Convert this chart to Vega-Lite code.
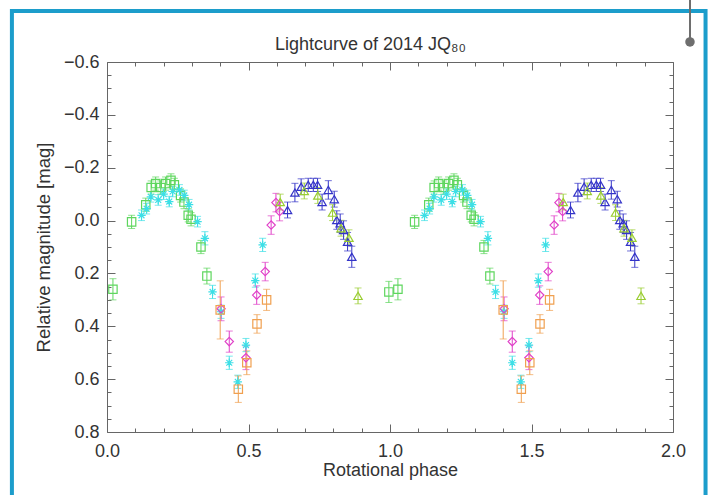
{
  "$schema": "https://vega.github.io/schema/vega-lite/v6.json",
  "width": 566,
  "height": 370,
  "autosize": {"type": "none"},
  "padding": {"left": 107, "top": 62, "right": 41, "bottom": 63},
  "background": "white",
  "config": {"view": {"stroke": null}, "font": "Liberation Sans"},
  "datasets": {
    "obs": [
      {"s": "A", "p": 0.021, "m": 0.26, "e": 0.04},
      {"s": "A", "p": 0.087, "m": 0.005, "e": 0.025},
      {"s": "A", "p": 0.137, "m": -0.06, "e": 0.025},
      {"s": "A", "p": 0.156, "m": -0.125, "e": 0.025},
      {"s": "A", "p": 0.172, "m": -0.14, "e": 0.025},
      {"s": "A", "p": 0.19, "m": -0.125, "e": 0.025},
      {"s": "A", "p": 0.207, "m": -0.14, "e": 0.025},
      {"s": "A", "p": 0.226, "m": -0.152, "e": 0.025},
      {"s": "A", "p": 0.238, "m": -0.135, "e": 0.025},
      {"s": "A", "p": 0.26, "m": -0.095, "e": 0.025},
      {"s": "A", "p": 0.272, "m": -0.07, "e": 0.025},
      {"s": "A", "p": 0.287, "m": -0.02, "e": 0.025},
      {"s": "A", "p": 0.297, "m": -0.005, "e": 0.025},
      {"s": "A", "p": 0.332, "m": 0.1, "e": 0.025},
      {"s": "A", "p": 0.353, "m": 0.21, "e": 0.03},
      {"s": "B", "p": 0.122, "m": -0.02, "e": 0.02},
      {"s": "B", "p": 0.14, "m": -0.045, "e": 0.02},
      {"s": "B", "p": 0.155, "m": -0.09, "e": 0.02},
      {"s": "B", "p": 0.181, "m": -0.078, "e": 0.02},
      {"s": "B", "p": 0.2, "m": -0.1, "e": 0.02},
      {"s": "B", "p": 0.22, "m": -0.072, "e": 0.02},
      {"s": "B", "p": 0.232, "m": -0.11, "e": 0.02},
      {"s": "B", "p": 0.256, "m": -0.116, "e": 0.02},
      {"s": "B", "p": 0.273, "m": -0.095, "e": 0.02},
      {"s": "B", "p": 0.29, "m": -0.06, "e": 0.02},
      {"s": "B", "p": 0.32, "m": 0.004, "e": 0.02},
      {"s": "B", "p": 0.346, "m": 0.067, "e": 0.025},
      {"s": "B", "p": 0.373, "m": 0.27, "e": 0.025},
      {"s": "B", "p": 0.403, "m": 0.345, "e": 0.025},
      {"s": "B", "p": 0.432, "m": 0.538, "e": 0.025},
      {"s": "B", "p": 0.462, "m": 0.61, "e": 0.025},
      {"s": "B", "p": 0.491, "m": 0.471, "e": 0.025},
      {"s": "B", "p": 0.524, "m": 0.227, "e": 0.025},
      {"s": "B", "p": 0.55, "m": 0.092, "e": 0.025},
      {"s": "C", "p": 0.403, "m": 0.334, "e": 0.045},
      {"s": "C", "p": 0.432, "m": 0.458, "e": 0.04},
      {"s": "C", "p": 0.491, "m": 0.519, "e": 0.045},
      {"s": "C", "p": 0.529, "m": 0.282, "e": 0.035},
      {"s": "C", "p": 0.559, "m": 0.193, "e": 0.035},
      {"s": "C", "p": 0.58, "m": 0.017, "e": 0.035},
      {"s": "C", "p": 0.597, "m": -0.068, "e": 0.035},
      {"s": "C", "p": 0.61, "m": -0.034, "e": 0.035},
      {"s": "D", "p": 0.4, "m": 0.338, "e": 0.11},
      {"s": "D", "p": 0.464, "m": 0.638, "e": 0.05},
      {"s": "D", "p": 0.494, "m": 0.538, "e": 0.045},
      {"s": "D", "p": 0.53, "m": 0.391, "e": 0.035},
      {"s": "D", "p": 0.564, "m": 0.3, "e": 0.04},
      {"s": "E", "p": 0.638, "m": -0.04, "e": 0.03},
      {"s": "E", "p": 0.664, "m": -0.106, "e": 0.035},
      {"s": "E", "p": 0.686, "m": -0.128, "e": 0.03},
      {"s": "E", "p": 0.711, "m": -0.135, "e": 0.025},
      {"s": "E", "p": 0.729, "m": -0.135, "e": 0.025},
      {"s": "E", "p": 0.744, "m": -0.135, "e": 0.025},
      {"s": "E", "p": 0.76, "m": -0.07, "e": 0.03},
      {"s": "E", "p": 0.782, "m": -0.116, "e": 0.035},
      {"s": "E", "p": 0.803, "m": -0.081, "e": 0.03},
      {"s": "E", "p": 0.812, "m": -0.002, "e": 0.035},
      {"s": "E", "p": 0.824, "m": 0.01, "e": 0.035},
      {"s": "E", "p": 0.836, "m": 0.036, "e": 0.035},
      {"s": "E", "p": 0.85, "m": 0.08, "e": 0.035},
      {"s": "E", "p": 0.865, "m": 0.137, "e": 0.04},
      {"s": "F", "p": 0.612, "m": -0.07, "e": 0.03},
      {"s": "F", "p": 0.697, "m": -0.112, "e": 0.03},
      {"s": "F", "p": 0.745, "m": -0.095, "e": 0.03},
      {"s": "F", "p": 0.797, "m": -0.03, "e": 0.03},
      {"s": "F", "p": 0.827, "m": 0.029, "e": 0.03},
      {"s": "F", "p": 0.855, "m": 0.065, "e": 0.03},
      {"s": "F", "p": 0.887, "m": 0.285, "e": 0.03},
      {"s": "A", "p": 0.996, "m": 0.27, "e": 0.04},
      {"s": "A", "p": 1.028, "m": 0.26, "e": 0.04},
      {"s": "A", "p": 1.087, "m": 0.005, "e": 0.025},
      {"s": "A", "p": 1.137, "m": -0.06, "e": 0.025},
      {"s": "A", "p": 1.156, "m": -0.125, "e": 0.025},
      {"s": "A", "p": 1.172, "m": -0.14, "e": 0.025},
      {"s": "A", "p": 1.19, "m": -0.125, "e": 0.025},
      {"s": "A", "p": 1.207, "m": -0.14, "e": 0.025},
      {"s": "A", "p": 1.226, "m": -0.152, "e": 0.025},
      {"s": "A", "p": 1.238, "m": -0.135, "e": 0.025},
      {"s": "A", "p": 1.26, "m": -0.095, "e": 0.025},
      {"s": "A", "p": 1.272, "m": -0.07, "e": 0.025},
      {"s": "A", "p": 1.287, "m": -0.02, "e": 0.025},
      {"s": "A", "p": 1.297, "m": -0.005, "e": 0.025},
      {"s": "A", "p": 1.332, "m": 0.1, "e": 0.025},
      {"s": "A", "p": 1.353, "m": 0.21, "e": 0.03},
      {"s": "B", "p": 1.122, "m": -0.02, "e": 0.02},
      {"s": "B", "p": 1.14, "m": -0.045, "e": 0.02},
      {"s": "B", "p": 1.155, "m": -0.09, "e": 0.02},
      {"s": "B", "p": 1.181, "m": -0.078, "e": 0.02},
      {"s": "B", "p": 1.2, "m": -0.1, "e": 0.02},
      {"s": "B", "p": 1.22, "m": -0.072, "e": 0.02},
      {"s": "B", "p": 1.232, "m": -0.11, "e": 0.02},
      {"s": "B", "p": 1.256, "m": -0.116, "e": 0.02},
      {"s": "B", "p": 1.273, "m": -0.095, "e": 0.02},
      {"s": "B", "p": 1.29, "m": -0.06, "e": 0.02},
      {"s": "B", "p": 1.32, "m": 0.004, "e": 0.02},
      {"s": "B", "p": 1.346, "m": 0.067, "e": 0.025},
      {"s": "B", "p": 1.373, "m": 0.27, "e": 0.025},
      {"s": "B", "p": 1.403, "m": 0.345, "e": 0.025},
      {"s": "B", "p": 1.432, "m": 0.538, "e": 0.025},
      {"s": "B", "p": 1.462, "m": 0.61, "e": 0.025},
      {"s": "B", "p": 1.491, "m": 0.471, "e": 0.025},
      {"s": "B", "p": 1.524, "m": 0.227, "e": 0.025},
      {"s": "B", "p": 1.55, "m": 0.092, "e": 0.025},
      {"s": "C", "p": 1.403, "m": 0.334, "e": 0.045},
      {"s": "C", "p": 1.432, "m": 0.458, "e": 0.04},
      {"s": "C", "p": 1.491, "m": 0.519, "e": 0.045},
      {"s": "C", "p": 1.529, "m": 0.282, "e": 0.035},
      {"s": "C", "p": 1.559, "m": 0.193, "e": 0.035},
      {"s": "C", "p": 1.58, "m": 0.017, "e": 0.035},
      {"s": "C", "p": 1.597, "m": -0.068, "e": 0.035},
      {"s": "C", "p": 1.61, "m": -0.034, "e": 0.035},
      {"s": "D", "p": 1.4, "m": 0.338, "e": 0.11},
      {"s": "D", "p": 1.464, "m": 0.638, "e": 0.05},
      {"s": "D", "p": 1.494, "m": 0.538, "e": 0.045},
      {"s": "D", "p": 1.53, "m": 0.391, "e": 0.035},
      {"s": "D", "p": 1.564, "m": 0.3, "e": 0.04},
      {"s": "E", "p": 1.638, "m": -0.04, "e": 0.03},
      {"s": "E", "p": 1.664, "m": -0.106, "e": 0.035},
      {"s": "E", "p": 1.686, "m": -0.128, "e": 0.03},
      {"s": "E", "p": 1.711, "m": -0.135, "e": 0.025},
      {"s": "E", "p": 1.729, "m": -0.135, "e": 0.025},
      {"s": "E", "p": 1.744, "m": -0.135, "e": 0.025},
      {"s": "E", "p": 1.76, "m": -0.07, "e": 0.03},
      {"s": "E", "p": 1.782, "m": -0.116, "e": 0.035},
      {"s": "E", "p": 1.803, "m": -0.081, "e": 0.03},
      {"s": "E", "p": 1.812, "m": -0.002, "e": 0.035},
      {"s": "E", "p": 1.824, "m": 0.01, "e": 0.035},
      {"s": "E", "p": 1.836, "m": 0.036, "e": 0.035},
      {"s": "E", "p": 1.85, "m": 0.08, "e": 0.035},
      {"s": "E", "p": 1.865, "m": 0.137, "e": 0.04},
      {"s": "F", "p": 1.612, "m": -0.07, "e": 0.03},
      {"s": "F", "p": 1.697, "m": -0.112, "e": 0.03},
      {"s": "F", "p": 1.745, "m": -0.095, "e": 0.03},
      {"s": "F", "p": 1.797, "m": -0.03, "e": 0.03},
      {"s": "F", "p": 1.827, "m": 0.029, "e": 0.03},
      {"s": "F", "p": 1.855, "m": 0.065, "e": 0.03},
      {"s": "F", "p": 1.887, "m": 0.285, "e": 0.03}
    ],
    "one": [{}]
  },
  "layer": [
    {
      "data": {"name": "one"},
      "mark": {"type": "rect", "fill": null, "stroke": "#1c9dcb", "strokeWidth": 4, "clip": false},
      "encoding": {
        "x": {"datum": -0.336, "type": "quantitative", "scale": {"domain": [0, 2], "nice": false, "zero": false}, "axis": null},
        "x2": {"datum": 2.115},
        "y": {"datum": -0.793, "type": "quantitative", "scale": {"domain": [-0.6, 0.8], "nice": false, "zero": false, "reverse": true}, "axis": null},
        "y2": {"datum": 1.2}
      }
    },
    {
      "data": {"name": "one"},
      "mark": {"type": "rule", "stroke": "#6e6e6e", "strokeWidth": 2, "clip": false},
      "encoding": {
        "x": {"datum": 2.06, "type": "quantitative", "axis": null},
        "y": {"datum": -0.9, "type": "quantitative", "axis": null},
        "y2": {"datum": -0.676}
      }
    },
    {
      "data": {"name": "one"},
      "mark": {"type": "point", "filled": true, "fill": "#6e6e6e", "size": 90, "opacity": 1, "clip": false},
      "encoding": {
        "x": {"datum": 2.06, "type": "quantitative", "axis": null},
        "y": {"datum": -0.676, "type": "quantitative", "axis": null}
      }
    },
    {
      "data": {"name": "obs"},
      "mark": {"type": "errorbar", "ticks": {"size": 7}, "thickness": 1},
      "encoding": {
        "x": {
          "field": "p", "type": "quantitative",
          "scale": {"domain": [0, 2], "nice": false, "zero": false},
          "axis": {
            "orient": "bottom", "title": "Rotational phase",
            "values": [0, 0.1, 0.2, 0.3, 0.4, 0.5, 0.6, 0.7, 0.8, 0.9, 1, 1.1, 1.2, 1.3, 1.4, 1.5, 1.6, 1.7, 1.8, 1.9, 2],
            "labelExpr": "abs(datum.value*2-round(datum.value*2))<0.001 ? format(datum.value,'.1f') : ''",
            "tickSize": {"condition": {"test": "abs(datum.value*2-round(datum.value*2))<0.001", "value": -8}, "value": -4},
            "grid": false, "domainColor": "#666666", "tickColor": "#666666", "labelColor": "#333333",
            "labelFontSize": 18, "labelFont": "Liberation Sans", "labelPadding": 18, "labelFlush": false, "labelOverlap": false,
            "titleFontSize": 18, "titleFont": "Liberation Sans", "titleFontWeight": "normal", "titleColor": "#333333", "titlePadding": -3
          }
        },
        "y": {
          "field": "m", "type": "quantitative",
          "scale": {"domain": [-0.6, 0.8], "nice": false, "zero": false, "reverse": true},
          "axis": {
            "orient": "left", "title": "Relative magnitude [mag]",
            "values": [-0.6, -0.55, -0.5, -0.45, -0.4, -0.35, -0.3, -0.25, -0.2, -0.15, -0.1, -0.05, 0, 0.05, 0.1, 0.15, 0.2, 0.25, 0.3, 0.35, 0.4, 0.45, 0.5, 0.55, 0.6, 0.65, 0.7, 0.75, 0.8],
            "labelExpr": "abs(datum.value*5-round(datum.value*5))<0.001 ? format(datum.value,'.1f') : ''",
            "tickSize": {"condition": {"test": "abs(datum.value*5-round(datum.value*5))<0.001", "value": -8}, "value": -4},
            "grid": false, "domainColor": "#666666", "tickColor": "#666666", "labelColor": "#333333",
            "labelFontSize": 18, "labelFont": "Liberation Sans", "labelPadding": 16, "labelFlush": false, "labelOverlap": false,
            "titleFontSize": 18.5, "titleFont": "Liberation Sans", "titleFontWeight": "normal", "titleColor": "#333333", "titlePadding": 10
          }
        },
        "yError": {"field": "e"},
        "color": {
          "field": "s", "type": "nominal", "legend": null,
          "scale": {"domain": ["A", "B", "C", "D", "E", "F"], "range": ["#5ed65e", "#3ddfe6", "#e040c8", "#f0a050", "#3434c8", "#9acd32"]}
        }
      }
    },
    {
      "data": {"name": "obs"},
      "mark": {"type": "point", "filled": false, "strokeWidth": 1.2, "size": 70, "opacity": 1},
      "encoding": {
        "x": {
          "field": "p", "type": "quantitative",
          "scale": {"domain": [0, 2], "nice": false, "zero": false},
          "axis": {
            "orient": "top", "title": "Lightcurve of 2014 JQ₈₀", "labels": false,
            "values": [0, 0.1, 0.2, 0.3, 0.4, 0.5, 0.6, 0.7, 0.8, 0.9, 1, 1.1, 1.2, 1.3, 1.4, 1.5, 1.6, 1.7, 1.8, 1.9, 2],
            "tickSize": {"condition": {"test": "abs(datum.value*2-round(datum.value*2))<0.001", "value": -8}, "value": -4},
            "grid": false, "domainColor": "#666666", "tickColor": "#666666",
            "titleFont": "Liberation Sans", "titleFontSize": 18, "titleFontWeight": "normal", "titleColor": "#333333",
            "titlePadding": 8, "titleX": 263
          }
        },
        "y": {
          "field": "m", "type": "quantitative",
          "scale": {"domain": [-0.6, 0.8], "nice": false, "zero": false, "reverse": true},
          "axis": {
            "orient": "right", "title": null, "labels": false,
            "values": [-0.6, -0.55, -0.5, -0.45, -0.4, -0.35, -0.3, -0.25, -0.2, -0.15, -0.1, -0.05, 0, 0.05, 0.1, 0.15, 0.2, 0.25, 0.3, 0.35, 0.4, 0.45, 0.5, 0.55, 0.6, 0.65, 0.7, 0.75, 0.8],
            "tickSize": {"condition": {"test": "abs(datum.value*5-round(datum.value*5))<0.001", "value": -8}, "value": -4},
            "grid": false, "domainColor": "#666666", "tickColor": "#666666"
          }
        },
        "color": {
          "field": "s", "type": "nominal", "legend": null,
          "scale": {"domain": ["A", "B", "C", "D", "E", "F"], "range": ["#5ed65e", "#3ddfe6", "#e040c8", "#f0a050", "#3434c8", "#9acd32"]}
        },
        "shape": {
          "field": "s", "type": "nominal", "legend": null,
          "scale": {"domain": ["A", "B", "C", "D", "E", "F"], "range": ["square", "M-1,0L1,0M0,-1L0,1M-0.7,-0.7L0.7,0.7M-0.7,0.7L0.7,-0.7", "diamond", "square", "triangle-up", "triangle-up"]}
        }
      }
    }
  ],
  "resolve": {"axis": {"x": "independent", "y": "independent"}}
}
